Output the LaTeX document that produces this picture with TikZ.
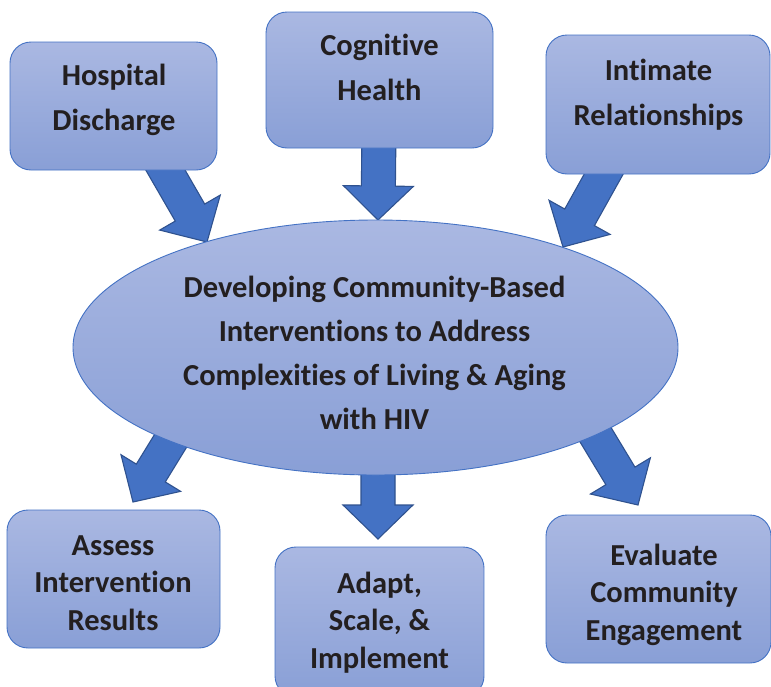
\documentclass[tikz,border=0pt]{standalone}
\usepackage{fontspec}
\setmainfont{Carlito}[Ligatures={NoCommon}]
\usetikzlibrary{calc,shapes.geometric}
\definecolor{boxtop}{RGB}{170,184,226}
\definecolor{boxbot}{RGB}{137,159,214}
\definecolor{boxline}{RGB}{68,114,196}
\definecolor{arrfill}{RGB}{68,114,196}
\definecolor{arrline}{RGB}{47,82,143}
\definecolor{txtcol}{RGB}{35,31,32}
\tikzset{
  x=1pt, y=-1pt,
  boxnode/.style={draw=boxline, line width=0.9pt, rounded corners=21pt,
    top color=boxtop, bottom color=boxbot, inner sep=0pt, outer sep=0pt},
  ellnode/.style={ellipse, draw=boxline, line width=0.9pt,
    top color=boxtop, bottom color=boxbot, inner sep=0pt, outer sep=0pt},
  txtnode/.style={anchor=north, inner sep=0pt, align=center, text=txtcol,
    font=\fontsize{30.5}{#1}\selectfont\bfseries},
  blockarr/.style={fill=arrfill, draw=arrline, line width=1.1pt, line join=miter},
}
\newcommand\blockarrow[2]{%
  \coordinate (bah) at ($(#2)!34pt!(#1)$);
  \path[blockarr] ($(#1)!17pt!90:(#2)$) -- ($(bah)!17pt!90:(#2)$)
    -- ($(bah)!35pt!90:(#2)$) -- (#2) -- ($(bah)!35pt!-90:(#2)$)
    -- ($(bah)!17pt!-90:(#2)$) -- ($(#1)!17pt!-90:(#2)$) -- cycle;%
}
\begin{document}
\begin{tikzpicture}
\useasboundingbox (0,0) rectangle (771,686);
% arrow end points
\coordinate (hs) at (155.5,152.9); \coordinate (ht) at (207,242);
\coordinate (cs) at (379,130);     \coordinate (ctip) at (378,220);
\coordinate (is) at (619,146.7);   \coordinate (it) at (563,247);
\coordinate (as) at (192,406);     \coordinate (at) at (133,502);
\coordinate (ds) at (378,460);     \coordinate (dt) at (378,539);
\coordinate (es) at (580,409);     \coordinate (et) at (638,505);
\blockarrow{hs}{ht}
\blockarrow{cs}{ctip}
\blockarrow{is}{it}
\blockarrow{as}{at}
\blockarrow{ds}{dt}
\blockarrow{es}{et}
% central ellipse
\node[ellnode, minimum width=605pt, minimum height=255pt] (ell) at (375.5,347.5) {};
\node[txtnode=44pt] (ellt) at (374.5,275.5) {Developing Community-Based\\Interventions to Address\\Complexities of Living \& Aging\\with HIV};
% top boxes
\node[boxnode, minimum width=207pt, minimum height=128pt] (hd) at (113.5,106) {};
\node[txtnode=45pt] (hdt) at (114,63.5) {Hospital\\Discharge};
\node[boxnode, minimum width=227pt, minimum height=136pt] (cg) at (379.5,80) {};
\node[txtnode=45pt] (cgt) at (379.5,33.5) {Cognitive\\Health};
\node[boxnode, minimum width=224pt, minimum height=139pt] (ir) at (658,104.5) {};
\node[txtnode=45pt] (irt) at (658.5,58.5) {Intimate\\Relationships};
% bottom boxes
\node[boxnode, minimum width=213pt, minimum height=138pt] (ai) at (113.5,579) {};
\node[txtnode=37.5pt] (ait) at (113,535.5) {Assess\\Intervention\\Results};
\node[boxnode, minimum width=209pt, minimum height=150pt] (ad) at (379.5,622) {};
\node[txtnode=37.5pt] (adt) at (379.5,571.5) {Adapt,\\Scale, \&\\Implement};
\node[boxnode, minimum width=225pt, minimum height=148pt] (ev) at (658.5,589) {};
\node[txtnode=37.5pt] (evt) at (664,543.5) {Evaluate\\Community\\Engagement};
\end{tikzpicture}
\end{document}
